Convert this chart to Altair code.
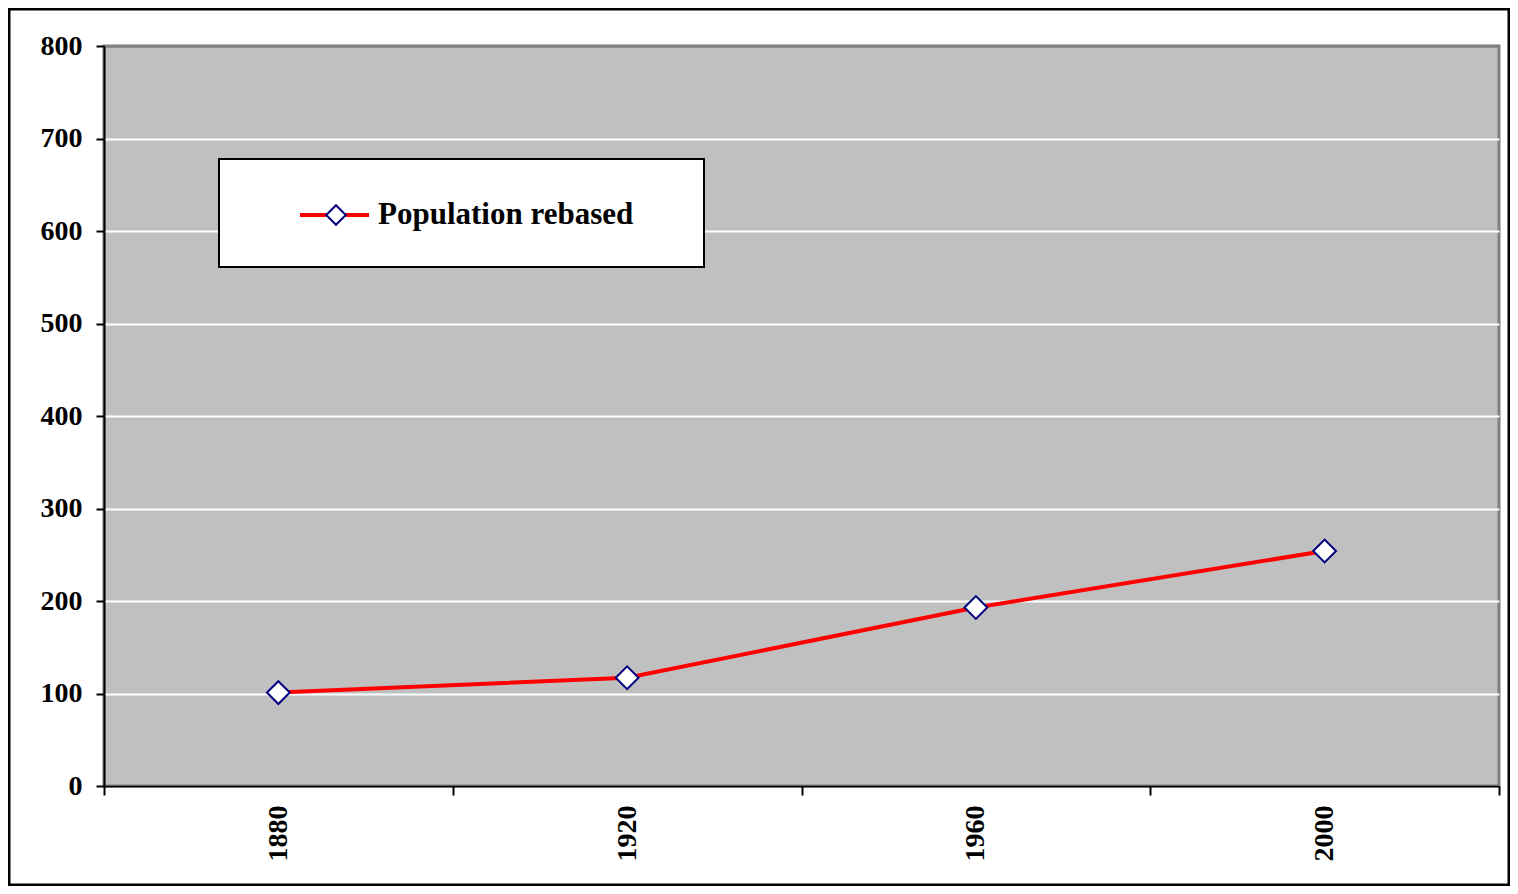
import altair as alt
import pandas as pd

# ---- data ----
years = ["1880", "1920", "1960", "2000"]
values = [101, 117, 193, 254]
series_name = "Population rebased"
y_ticks = [0, 100, 200, 300, 400, 500, 600, 700, 800]

df = pd.DataFrame({"year": years, "value": values})
legend_df = pd.DataFrame({"label": [series_name]})

W, H = 1395, 740
FONT = "Liberation Serif"
FS = 28

x_enc = alt.X(
    "year:O",
    bandPosition=0.5,
    scale=alt.Scale(type="band", paddingInner=0, paddingOuter=0),
    axis=alt.Axis(
        title=None, labelAngle=-90, tickBand="extent", grid=False,
        labelFont=FONT, labelFontSize=FS, labelFontWeight="bold", labelColor="black",
        domainColor="black", domainWidth=2, tickColor="black", tickWidth=2,
        tickSize=9, labelPadding=10,
    ),
)
y_enc = alt.Y(
    "value:Q",
    scale=alt.Scale(domain=[0, 800], nice=False, zero=True),
    axis=alt.Axis(
        title=None, values=y_ticks, grid=True,
        gridColor={"condition": {"test": "datum.value === 800", "value": "#808080"}, "value": "white"},
        gridWidth=2,
        labelFont=FONT, labelFontSize=FS, labelFontWeight="bold", labelColor="black",
        domainColor="black", domainWidth=2, tickColor="black", tickWidth=2,
        tickSize=8, labelPadding=14,
    ),
)

base = alt.Chart(df)
line = base.mark_line(color="#ff0000", strokeWidth=4).encode(x=x_enc, y=y_enc)
pts = base.mark_point(
    shape="diamond", filled=True, fill="white", stroke="#000080", strokeWidth=2,
    size=520, opacity=1,
).encode(x=x_enc, y=y_enc)

# outer frame of the chart
frame = alt.Chart(legend_df).mark_rect(fill=None, stroke="black", strokeWidth=3).encode(
    x=alt.value(-95), x2=alt.value(W + 10), y=alt.value(-37), y2=alt.value(H + 99)
)

# legend box
lg = alt.Chart(legend_df)
lg_box = lg.mark_rect(fill="white", stroke="black", strokeWidth=2).encode(
    x=alt.value(115), x2=alt.value(600), y=alt.value(113), y2=alt.value(221)
)
lg_line = lg.mark_rule(color="#ff0000", strokeWidth=4).encode(
    x=alt.value(196), x2=alt.value(265), y=alt.value(169)
)
lg_pt = lg.mark_point(
    shape="diamond", filled=True, fill="white", stroke="#000080", strokeWidth=2,
    size=380, opacity=1,
).encode(x=alt.value(232), y=alt.value(169))
lg_text = lg.mark_text(
    align="left", baseline="alphabetic", font=FONT, fontSize=31, fontWeight="bold", color="black"
).encode(x=alt.value(274), y=alt.value(178), text="label:N")

chart = alt.layer(frame, line, pts, lg_box, lg_line, lg_pt, lg_text).properties(
    width=W, height=H,
    autosize=alt.AutoSizeParams(type="none"),
    padding={"left": 96, "top": 38, "right": 11, "bottom": 100},
    background="white",
).configure_view(
    fill="#c0c0c0", stroke="#808080", strokeWidth=3
)

chart.save("out.html", embed_options={"renderer": "svg", "actions": False})
